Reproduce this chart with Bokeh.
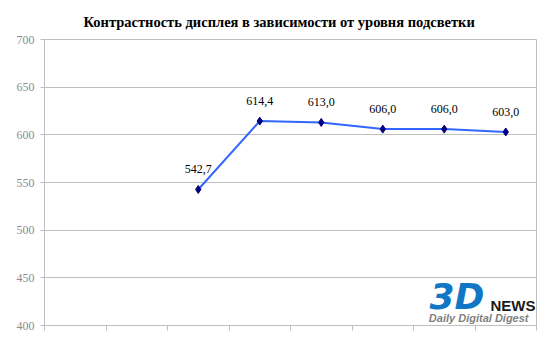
from bokeh.plotting import figure
from bokeh.models import Range1d, FixedTicker, ColumnDataSource
from bokeh.core.properties import value
from bokeh.embed import file_html
from bokeh.resources import INLINE

title = "Контрастность дисплея в зависимости от уровня подсветки"
levels = ["1", "2", "3", "4", "5", "6", "7", "8"]
contrast = [None, None, 542.7, 614.4, 613.0, 606.0, 606.0, 603.0]
y_ticks = [400, 450, 500, 550, 600, 650, 700]

# category slot centres (category i occupies [i, i+1])
xpos = [i + 0.5 for i in range(len(levels))]
vals = [float("nan") if v is None else v for v in contrast]
labels = ["" if v is None else f"{v:.1f}".replace(".", ",") for v in contrast]
src = ColumnDataSource(dict(x=xpos, y=vals, t=labels))
keep = [i for i, v in enumerate(contrast) if v is not None]
pts = ColumnDataSource(dict(x=[xpos[i] for i in keep], y=[contrast[i] for i in keep],
                            t=[labels[i] for i in keep]))

GRID = "#BFBFBF"
SERIF = "Liberation Serif"

p = figure(width=550, height=356, x_range=Range1d(0, len(levels)),
           y_range=Range1d(400, 700), output_backend="svg", toolbar_location=None,
           min_border_left=44, min_border_right=14,
           min_border_top=39, min_border_bottom=31)
p.title.text = title
p.title.align = "left"
p.title.offset = 39
p.title.text_font = SERIF
p.title.text_font_size = "14.5px"
p.title.text_font_style = "bold"
p.title.text_color = "black"
p.title.standoff = 20

p.outline_line_color = GRID
p.xgrid.visible = False
p.ygrid.grid_line_color = GRID
p.ygrid.ticker = FixedTicker(ticks=y_ticks)

ya = p.yaxis[0]
ya.ticker = FixedTicker(ticks=y_ticks)
ya.axis_line_color = GRID
ya.major_tick_line_color = GRID
ya.major_tick_out = 4
ya.major_tick_in = 0
ya.minor_tick_line_color = None
ya.major_label_text_font = SERIF
ya.major_label_text_font_size = "12px"
ya.major_label_text_color = "#8C8C8C"
ya.major_label_standoff = 6

xa = p.xaxis[0]
xa.ticker = FixedTicker(ticks=list(range(len(levels) + 1)))
xa.axis_line_color = GRID
xa.major_tick_line_color = GRID
xa.major_tick_out = 5
xa.major_tick_in = 0
xa.minor_tick_line_color = None
xa.major_label_overrides = {i: "" for i in range(len(levels) + 1)}

p.line("x", "y", source=src, line_color="#3366FF", line_width=2)
p.scatter("x", "y", source=pts, marker="diamond", size=8, fill_color="#000080", line_color="#000080")
p.text("x", "y", text="t", source=pts, text_align="center", text_baseline="middle",
       y_offset=-20, text_font=value(SERIF), text_font_size="12px", text_color="black")

# watermark anchored at the frame's bottom-right corner
R = len(levels)
p.text(x=[R], y=[400], text=["3D"], x_offset=-52, y_offset=-29,
       text_align="right", text_baseline="middle", text_font=value("DejaVu Sans"),
       text_font_style="bold italic", text_font_size="36px", text_color="#1177C4")
p.text(x=[R], y=[400], text=["NEWS"], x_offset=-1, y_offset=-20,
       text_align="right", text_baseline="middle", text_font=value("Liberation Sans"),
       text_font_style="bold", text_font_size="15px", text_color="#1a1a1a")
p.text(x=[R], y=[400], text=["Daily Digital Digest"], x_offset=-8, y_offset=-8,
       text_align="right", text_baseline="middle", text_font=value("Liberation Sans"),
       text_font_style="bold italic", text_font_size="11px", text_color="#7f7f7f")

open("out.html", "w").write(file_html(p, INLINE))
